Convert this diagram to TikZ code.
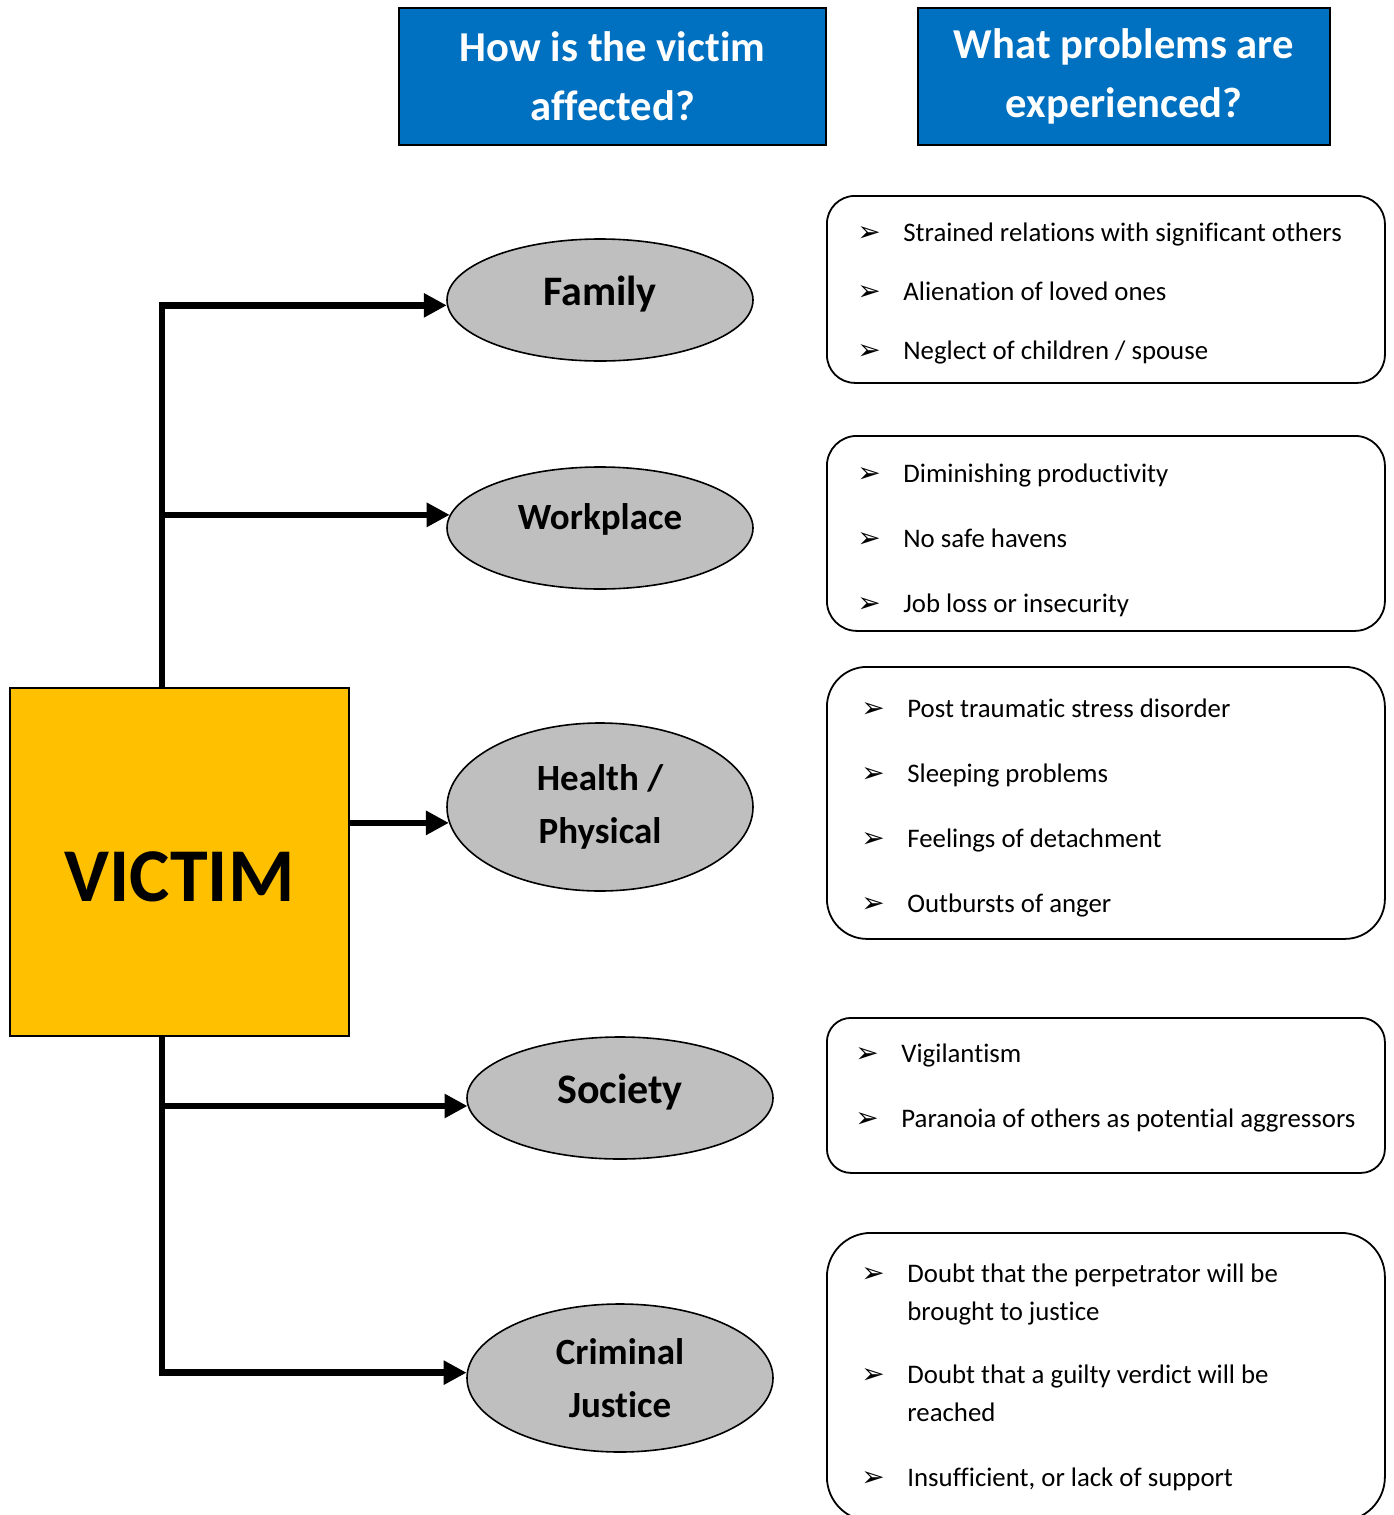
\documentclass[tikz,border=0pt]{standalone}
\usepackage{fontspec}
\setmainfont{Carlito}[Ligatures=NoCommon]
\newfontfamily\symfont{DejaVu Sans}
\usepackage{xcolor}
\usetikzlibrary{positioning,shapes.geometric,arrows.meta}

\definecolor{headblue}{RGB}{0,112,192}
\definecolor{victimgold}{RGB}{255,192,0}
\definecolor{areagray}{RGB}{191,191,191}
\newcommand{\bul}{\makebox[23pt][l]{\fontsize{14}{14}\symfont ➢}}

\begin{document}
\begin{tikzpicture}[
  x=0.5pt, y=-0.5pt,
  headnode/.style={rectangle, draw=black, line width=1pt, fill=headblue, text=white, align=center,
    font=\fontsize{21.3}{29.5}\selectfont\bfseries, minimum height=68.5pt},
  areanode/.style={ellipse, draw=black, line width=0.8pt, fill=areagray, inner sep=0pt, align=center,
    minimum width=153pt, minimum height=61pt, font=\fontsize{18.5}{26.5}\selectfont\bfseries},
  bigarea/.style={areanode, font=\fontsize{21}{26}\selectfont\bfseries, text height=12pt, text depth=6.4pt},
  listbox/.style={rectangle, draw=black, line width=0.9pt, anchor=north west, minimum width=279pt, inner sep=0pt},
  listitem/.style={anchor=west, inner sep=0pt, font=\fontsize{13.4}{15}\selectfont, text height=9pt, text depth=0pt},
  link/.style={line width=3.2pt, -{Triangle[length=11.5pt,width=11.5pt]}}
]
\useasboundingbox (0,0) rectangle (1393,1515);
\clip (0,0) rectangle (1393,1515);

%Headers
\node[headnode, minimum width=213.5pt] (howhead) at (612.5,76.5) {How is the victim\\affected?};
\node[headnode, minimum width=206pt] (whathead) at (1124,76.5) {What problems are\\experienced?};

%Victim
\node[rectangle, draw=black, line width=0.8pt, fill=victimgold, minimum width=169.5pt, minimum height=174pt,
  font=\fontsize{38}{40}\selectfont\bfseries, text height=39pt, text depth=0pt] (victim) at (179.5,862) {VICTIM};

%Areas
\node[bigarea] (family) at (600,300) {Family};
\node[areanode, text height=10pt, text depth=8.2pt] (work) at (600,528) {Workplace};
\node[areanode, minimum height=84pt] (health) at (600,807) {Health /\\Physical};
\node[bigarea] (society) at (620,1098) {Society};
\node[areanode, minimum height=74pt] (justice) at (620,1378) {Criminal\\Justice};

%Arrows
\coordinate (trunk) at (162,0);
\draw[link] (victim.north -| trunk) |- (family.182);
\draw[link] (trunk |- work.175) -- (work.175);
\draw[link] (victim.east |- health.186) -- (health.186);
\draw[link] (trunk |- society.183) -- (society.183);
\draw[link] (victim.south -| trunk) |- (justice.178);

%Problem boxes
\node[listbox, rounded corners=14pt, minimum height=93.5pt] (famlist) at (826,195) {};
\node[listbox, rounded corners=15pt, minimum height=97.5pt] (worklist) at (826,435) {};
\node[listbox, rounded corners=20pt, minimum height=136pt] (healthlist) at (826,666) {};
\node[listbox, rounded corners=12pt, minimum height=77.5pt] (socilist) at (826,1017) {};
\node[listbox, rounded corners=22pt, minimum height=144pt] (justlist) at (826,1232) {};

%Problems
\node[listitem] (fam1) at (857,232) {\bul Strained relations with significant others};
\node[listitem] (fam2) at (857,291) {\bul Alienation of loved ones};
\node[listitem] (fam3) at (857,350) {\bul Neglect of children / spouse};

\node[listitem] (work1) at (857,473) {\bul Diminishing productivity};
\node[listitem] (work2) at (857,538) {\bul No safe havens};
\node[listitem] (work3) at (857,603) {\bul Job loss or insecurity};

\node[listitem] (health1) at (861,708) {\bul Post traumatic stress disorder};
\node[listitem] (health2) at (861,773) {\bul Sleeping problems};
\node[listitem] (health3) at (861,838) {\bul Feelings of detachment};
\node[listitem] (health4) at (861,903) {\bul Outbursts of anger};

\node[listitem] (soci1) at (855,1053) {\bul Vigilantism};
\node[listitem] (soci2) at (855,1118) {\bul Paranoia of others as potential aggressors};

\node[listitem] (just1) at (861,1273) {\bul Doubt that the perpetrator will be};
\node[listitem] (just1b) at (907,1311) {brought to justice};
\node[listitem] (just2) at (861,1374) {\bul Doubt that a guilty verdict will be};
\node[listitem] (just2b) at (907,1412) {reached};
\node[listitem] (just3) at (861,1477) {\bul Insufficient, or lack of support};
\end{tikzpicture}
\end{document}
